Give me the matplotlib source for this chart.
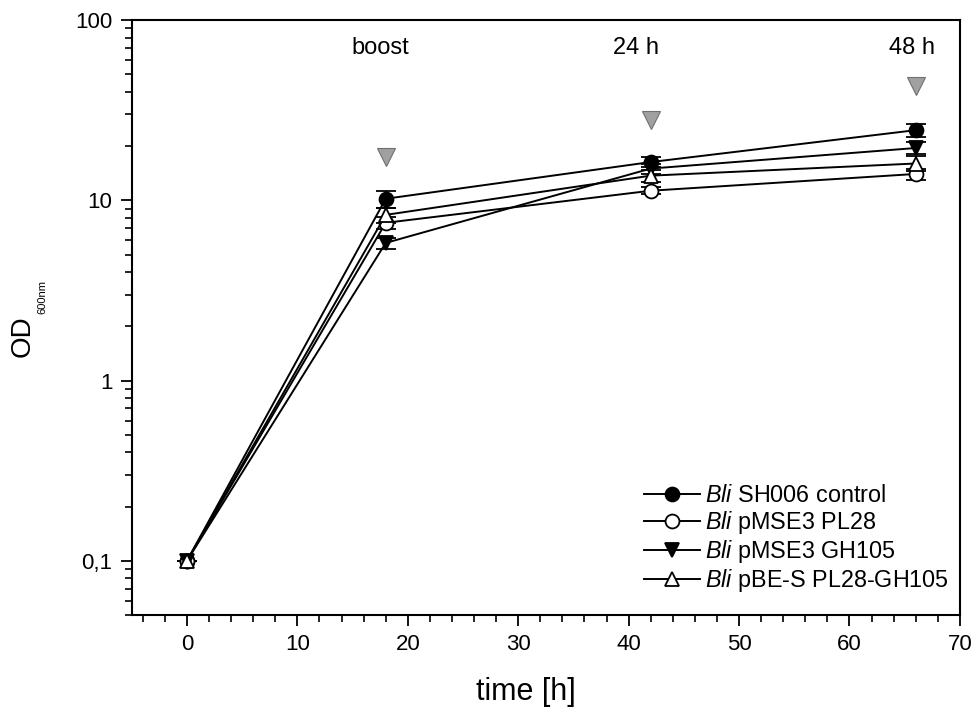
import matplotlib
matplotlib.use("Agg")
import matplotlib.pyplot as plt
from matplotlib.lines import Line2D
from matplotlib.ticker import FixedLocator, FuncFormatter, LogLocator, MultipleLocator, NullFormatter

plt.rcParams['font.family'] = ['Liberation Sans', 'DejaVu Sans']
plt.rcParams['mathtext.fontset'] = 'custom'
plt.rcParams['mathtext.rm'] = 'Liberation Sans'
plt.rcParams['mathtext.it'] = 'Liberation Sans:italic'

time_h = [0, 18, 42, 66]
series_labels = [r"$\it{Bli}$ SH006 control", r"$\it{Bli}$ pMSE3 PL28",
                 r"$\it{Bli}$ pMSE3 GH105", r"$\it{Bli}$ pBE-S PL28-GH105"]
control = [0.1, 10.2, 16.3, 24.5]
control_err = [0.0, 1.1, 1.0, 2.0]
pl28 = [0.1, 7.5, 11.3, 14.0]
pl28_err = [0.0, 0.6, 0.5, 1.0]
gh105 = [0.1, 5.8, 15.0, 19.5]
gh105_err = [0.0, 0.4, 1.0, 1.5]
pbes = [0.1, 8.3, 13.7, 16.0]
pbes_err = [0.0, 0.8, 1.0, 1.5]

event_x = [18, 42, 66]
event_y = [17.3, 28.0, 43.0]
label_x = [17.5, 40.7, 65.7]
label_y = [70, 70, 70]
event_labels = ["boost", "24 h", "48 h"]

fig = plt.figure(figsize=(9.76, 7.16), dpi=100)
ax = fig.add_axes([0.135, 0.141, 0.8485, 0.831])

styles = [
    dict(marker='o', mfc='black', mec='black'),
    dict(marker='o', mfc='white', mec='black'),
    dict(marker='v', mfc='black', mec='black'),
    dict(marker='^', mfc='white', mec='black'),
]
data = [(control, control_err), (pl28, pl28_err), (gh105, gh105_err), (pbes, pbes_err)]
handles = []
for (vals, errs), st, lab in zip(data, styles, series_labels):
    ax.errorbar(time_h, vals, yerr=errs, color='black', lw=1.4, ms=10,
                mew=1.3, capsize=7, capthick=1.8, elinewidth=1.4,
                zorder=3, **st)
    handles.append(Line2D([], [], color='black', lw=1.4, ms=10, mew=1.3,
                          label=lab, **st))

ax.plot(event_x, event_y, linestyle='none', marker='v', ms=13,
        mfc='#a0a0a0', mec='#707070', mew=0.8, zorder=4)
for x, y, t in zip(label_x, label_y, event_labels):
    ax.text(x, y, t, ha='center', va='center', fontsize=17)

ax.set_yscale('log')
ax.set_xlim(-5, 70)
ax.set_ylim(0.05, 100)
ax.xaxis.set_major_locator(MultipleLocator(10))
ax.xaxis.set_minor_locator(MultipleLocator(2))
ax.yaxis.set_major_locator(FixedLocator([0.1, 1, 10, 100]))
ax.yaxis.set_minor_locator(LogLocator(base=10, subs=range(2, 10)))
ax.yaxis.set_minor_formatter(NullFormatter())
ax.yaxis.set_major_formatter(FuncFormatter(lambda v, p: {0.1: "0,1", 1: "1", 10: "10", 100: "100"}.get(round(v, 3), "")))

ax.tick_params(which='major', direction='out', length=8, width=1.3, labelsize=16, pad=6)
ax.tick_params(which='minor', direction='out', length=5, width=1.2)
for s in ax.spines.values():
    s.set_linewidth(1.5)

fig.text(526 / 976, 1 - 692 / 716, "time [h]", fontsize=22, ha='center', va='center')
fig.text(23 / 976, 1 - 336 / 716, "OD", rotation=90, fontsize=20, ha='center', va='center')
fig.text(42 / 976, 1 - 297 / 716, "600nm", rotation=90, fontsize=8, ha='center', va='center')

leg = ax.legend(handles=handles, loc='lower right', bbox_to_anchor=(1.012, 0.0),
                frameon=False, fontsize=16.8, handlelength=2.4, labelspacing=0.08,
                handletextpad=0.2)

fig.savefig("out.png", dpi=100)
